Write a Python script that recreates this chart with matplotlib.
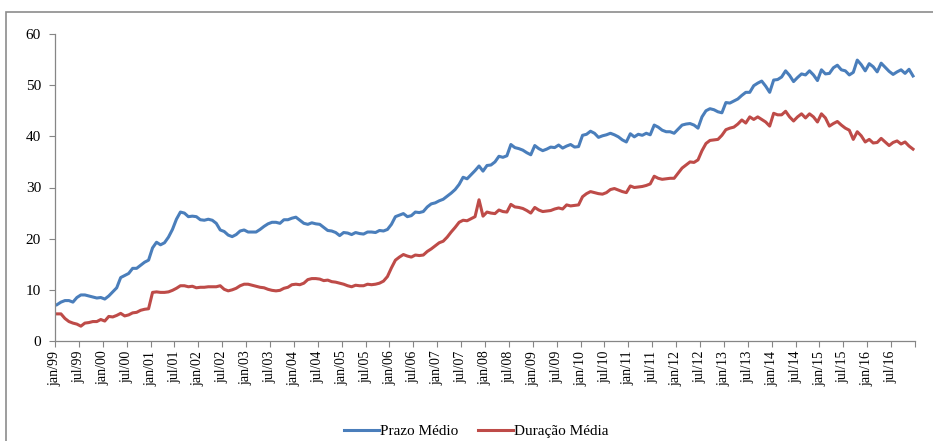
import matplotlib
matplotlib.use("Agg")
import matplotlib.pyplot as plt
from matplotlib.patches import Rectangle

# monthly series, jan/99 .. dec/16
prazo_medio = [
    7.1, 7.6, 7.9, 7.9, 7.6, 8.5, 9.0, 9.0, 8.8, 8.6, 8.4, 8.5,          # 1999
    8.2, 8.8, 9.6, 10.4, 12.4, 12.8, 13.2, 14.2, 14.2, 14.8, 15.4, 15.8,  # 2000
    18.2, 19.3, 18.8, 19.2, 20.3, 21.8, 23.8, 25.2, 25.0, 24.3, 24.4, 24.3,  # 2001
    23.7, 23.6, 23.8, 23.6, 23.0, 21.7, 21.4, 20.7, 20.4, 20.8, 21.5, 21.7,  # 2002
    21.3, 21.3, 21.3, 21.8, 22.4, 22.9, 23.2, 23.2, 23.0, 23.7, 23.7, 24.0,  # 2003
    24.2, 23.6, 23.0, 22.8, 23.1, 22.9, 22.8, 22.2, 21.6, 21.5, 21.2, 20.6,  # 2004
    21.2, 21.1, 20.8, 21.2, 21.0, 20.9, 21.3, 21.3, 21.2, 21.6, 21.5, 21.8,  # 2005
    22.8, 24.3, 24.6, 24.9, 24.3, 24.5, 25.2, 25.1, 25.3, 26.2, 26.8, 27.0,  # 2006
    27.4, 27.7, 28.3, 28.9, 29.6, 30.6, 32.0, 31.7, 32.5, 33.3, 34.2, 33.2,  # 2007
    34.3, 34.4, 35.0, 36.1, 35.9, 36.2, 38.4, 37.8, 37.6, 37.3, 36.8, 36.4,  # 2008
    38.2, 37.6, 37.2, 37.5, 37.9, 37.8, 38.3, 37.7, 38.1, 38.4, 37.9, 38.0,  # 2009
    40.2, 40.4, 41.0, 40.6, 39.8, 40.1, 40.3, 40.6, 40.3, 39.9, 39.3, 38.9,  # 2010
    40.5, 39.9, 40.4, 40.2, 40.6, 40.3, 42.2, 41.8, 41.2, 40.9, 40.9, 40.6,  # 2011
    41.4, 42.2, 42.4, 42.5, 42.2, 41.6, 43.8, 45.0, 45.4, 45.2, 44.8, 44.6,  # 2012
    46.6, 46.5, 46.9, 47.3, 48.0, 48.6, 48.6, 49.9, 50.4, 50.8, 49.8, 48.6,  # 2013
    51.0, 51.1, 51.6, 52.8, 51.9, 50.7, 51.5, 52.2, 52.0, 52.8, 52.0, 50.9,  # 2014
    53.0, 52.2, 52.3, 53.4, 53.9, 53.0, 52.8, 52.0, 52.5, 54.9, 54.0, 52.8,  # 2015
    54.2, 53.6, 52.6, 54.3, 53.5, 52.7, 52.1, 52.6, 53.0, 52.3, 53.1, 51.8,  # 2016
]

duracao_media = [
    5.3, 5.3, 4.4, 3.8, 3.5, 3.3, 2.9, 3.5, 3.6, 3.8, 3.8, 4.2,          # 1999
    3.9, 4.8, 4.7, 5.0, 5.4, 4.9, 5.1, 5.5, 5.6, 6.0, 6.2, 6.3,          # 2000
    9.5, 9.6, 9.5, 9.5, 9.6, 9.9, 10.3, 10.8, 10.8, 10.6, 10.7, 10.4,    # 2001
    10.5, 10.5, 10.6, 10.6, 10.6, 10.8, 10.1, 9.8, 10.0, 10.3, 10.8, 11.1,  # 2002
    11.1, 10.9, 10.7, 10.5, 10.4, 10.1, 9.9, 9.8, 9.9, 10.3, 10.5, 11.0,    # 2003
    11.1, 11.0, 11.3, 12.0, 12.2, 12.2, 12.1, 11.8, 11.9, 11.6, 11.5, 11.3,  # 2004
    11.1, 10.8, 10.6, 10.9, 10.8, 10.8, 11.1, 11.0, 11.1, 11.3, 11.7, 12.6,  # 2005
    14.3, 15.8, 16.4, 16.9, 16.6, 16.4, 16.8, 16.7, 16.8, 17.5, 18.0, 18.6,  # 2006
    19.2, 19.5, 20.3, 21.3, 22.2, 23.2, 23.6, 23.5, 23.9, 24.3, 27.6, 24.4,  # 2007
    25.2, 25.0, 24.9, 25.6, 25.3, 25.2, 26.7, 26.2, 26.1, 25.9, 25.5, 25.0,  # 2008
    26.1, 25.6, 25.3, 25.4, 25.5, 25.8, 26.0, 25.8, 26.6, 26.4, 26.5, 26.6,  # 2009
    28.2, 28.8, 29.2, 29.0, 28.8, 28.7, 29.0, 29.6, 29.8, 29.5, 29.2, 29.0,  # 2010
    30.3, 30.0, 30.1, 30.2, 30.4, 30.7, 32.2, 31.8, 31.6, 31.7, 31.8, 31.8,  # 2011
    32.8, 33.8, 34.4, 35.0, 34.9, 35.4, 37.2, 38.6, 39.2, 39.3, 39.4, 40.2,  # 2012
    41.3, 41.6, 41.8, 42.4, 43.2, 42.6, 43.8, 43.3, 43.8, 43.3, 42.8, 42.0,  # 2013
    44.5, 44.2, 44.2, 44.9, 43.8, 43.0, 43.8, 44.4, 43.6, 44.4, 43.8, 42.8,  # 2014
    44.4, 43.6, 42.0, 42.5, 42.9, 42.2, 41.6, 41.2, 39.4, 40.9, 40.1, 38.9,  # 2015
    39.4, 38.7, 38.8, 39.6, 38.9, 38.2, 38.8, 39.1, 38.5, 38.9, 38.1, 37.5,  # 2016
]

tick_labels = []
for yy in range(99, 117):
    yr = yy % 100
    tick_labels.append("jan/%02d" % yr)
    tick_labels.append("jul/%02d" % yr)

n = len(prazo_medio)
x = [i + 0.5 for i in range(n)]

plt.rcParams['font.family'] = ['Liberation Serif', 'DejaVu Serif']

fig = plt.figure(figsize=(9.33, 4.41), dpi=100)
ax = fig.add_axes([55 / 933, 100 / 441, 860 / 933, 307 / 441])

ax.plot(x, prazo_medio, color='#4A7EBB', lw=2.2, label='Prazo Médio')
ax.plot(x, duracao_media, color='#BE4B48', lw=2.2, label='Duração Média')

ax.set_xlim(0, n)
ax.set_ylim(0, 60)
ax.set_yticks(range(0, 61, 10))
ax.set_xticks(range(0, n + 1, 6))
ax.set_xticklabels(tick_labels + [''], rotation=90, fontsize=10)
ax.tick_params(axis='y', labelsize=11, length=4, color='#868686', pad=6)
ax.tick_params(axis='x', length=4, color='#868686', pad=3)

for s in ['top', 'right']:
    ax.spines[s].set_visible(False)
for s in ['left', 'bottom']:
    ax.spines[s].set_color('#868686')
    ax.spines[s].set_linewidth(0.9)

fig.legend(loc='lower center', bbox_to_anchor=(0.51, -0.025), ncol=2, frameon=False,
           fontsize=11, handlelength=2.3, handletextpad=0.05, columnspacing=1.3)

# outer chart frame (cut off at the right and bottom in the reference)
fig.patches.append(Rectangle((6 / 933, -0.05), 1.0, 1 - 12 / 441 + 0.05,
                             transform=fig.transFigure, fill=False,
                             edgecolor='#8C8C8C', lw=1.2))

fig.savefig('out.png', dpi=100)
